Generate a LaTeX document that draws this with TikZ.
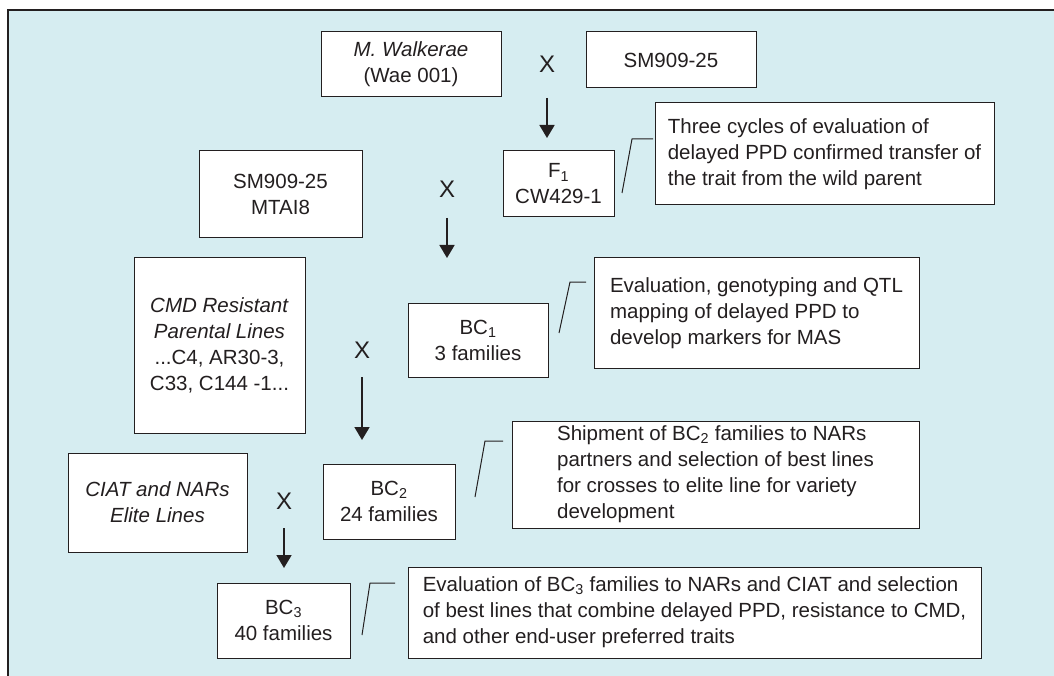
\documentclass[tikz,border=0pt]{standalone}
\usepackage{fontspec}
\setmainfont{Liberation Sans}
\usetikzlibrary{arrows.meta}
\definecolor{panel}{RGB}{214,237,241}
\definecolor{ink}{RGB}{35,31,32}
\begin{document}
\begin{tikzpicture}[x=1pt,y=-1pt,
  box/.style={draw=ink, fill=white, line width=1pt, inner sep=0pt, align=center,
    text=ink, font=\fontsize{20.5}{26}\selectfont},
  note/.style={box, align=left},
  xlab/.style={inner sep=0pt, text=ink, font=\fontsize{24}{28}\selectfont},
  cross/.style={draw=ink, line width=1.8pt, -{Triangle[width=15pt,length=13pt]}},
  callout/.style={draw=ink, line width=1pt}]
\useasboundingbox (0,0) rectangle (1054,676);
\fill[panel] (8,10) rectangle (1054,676);
\draw[ink, line width=1.2pt] (8,676) -- (8,10) -- (1054,10);

% boxes
\node[box, minimum width=180, minimum height=65] (walk) at (411,64.5) {\textit{M. Walkerae}\\(Wae 001)};
\node[box, minimum width=170, minimum height=56] (sm1) at (671,60) {SM909-25};
\node[box, minimum width=111, minimum height=66] (f1) at (558.5,184) {F\textsubscript{1}\\CW429-1};
\node[note, minimum width=339, minimum height=102] (n1) at (824.5,154)
  {Three cycles of evaluation of\\delayed PPD confirmed transfer of\\the trait from the wild parent};
\node[box, minimum width=163, minimum height=87] (sm2) at (280.5,194.5) {SM909-25\\MTAI8};
\node[box, minimum width=171, minimum height=175] (cmd) at (219.5,345.5)
  {\textit{CMD Resistant}\\\textit{Parental Lines}\\...C4, AR30-3,\\C33, C144 -1...};
\node[box, minimum width=140, minimum height=74] (bc1) at (478,340) {BC\textsubscript{1}\\3 families};
\node[note, minimum width=325, minimum height=110] (n2) at (756.5,313)
  {Evaluation, genotyping and QTL\\mapping of delayed PPD to\\develop markers for MAS};
\node[box, minimum width=179, minimum height=99] (ciat) at (157.5,502.5)
  {\textit{CIAT and NARs}\\\textit{Elite Lines}};
\node[box, minimum width=132, minimum height=75] (bc2) at (389,501.5) {BC\textsubscript{2}\\24 families};
\node[note, minimum width=407, minimum height=107] (n3) at (715.5,474.5)
  {Shipment of BC\textsubscript{2} families to NARs\\partners and selection of best lines\\for crosses to elite line for variety\\development};
\node[box, minimum width=133, minimum height=75] (bc3) at (283.5,620.5) {BC\textsubscript{3}\\40 families};
\node[note, minimum width=573, minimum height=91] (n4) at (694.5,612.5)
  {Evaluation of BC\textsubscript{3} families to NARs and CIAT and selection\\of best lines that combine delayed PPD, resistance to CMD,\\and other end-user preferred traits};

% cross marks
\node[xlab] (x1) at (547,64.5) {X};
\node[xlab] (x2) at (447,189.5) {X};
\node[xlab] (x3) at (362,350) {X};
\node[xlab] (x4) at (284,501) {X};

% arrows
\coordinate (a1s) at (547,98);  \coordinate (a1e) at (547,138);
\coordinate (a2s) at (447,218); \coordinate (a2e) at (447,258);
\coordinate (a3s) at (362,377); \coordinate (a3e) at (362,440);
\coordinate (a4s) at (284,528); \coordinate (a4e) at (284,568);
\draw[cross] (a1s) -- (a1e);
\draw[cross] (a2s) -- (a2e);
\draw[cross] (a3s) -- (a3e);
\draw[cross] (a4s) -- (a4e);

% callouts
\coordinate (c1a) at (622,193); \coordinate (c1b) at (632,139); \coordinate (c1c) at (653,139);
\coordinate (c2a) at (559,333); \coordinate (c2b) at (570,282); \coordinate (c2c) at (586,282);
\coordinate (c3a) at (475,497); \coordinate (c3b) at (485,441); \coordinate (c3c) at (503,441);
\coordinate (c4a) at (362,635); \coordinate (c4b) at (370,583); \coordinate (c4c) at (395,583);
\draw[callout] (c1a) -- (c1b) -- (c1c);
\draw[callout] (c2a) -- (c2b) -- (c2c);
\draw[callout] (c3a) -- (c3b) -- (c3c);
\draw[callout] (c4a) -- (c4b) -- (c4c);
\end{tikzpicture}
\end{document}
